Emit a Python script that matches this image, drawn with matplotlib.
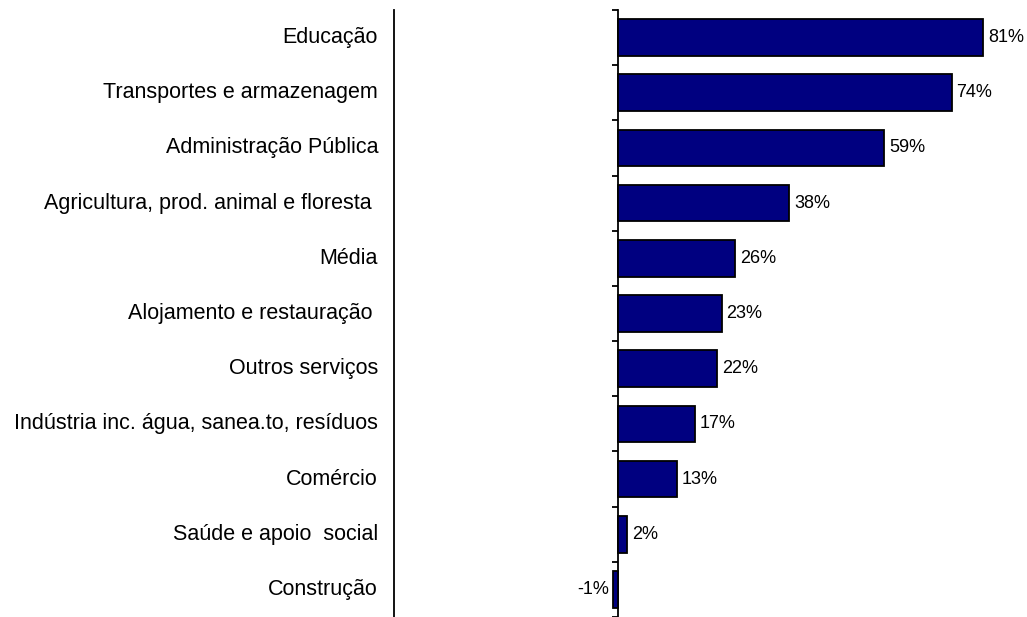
import matplotlib
matplotlib.use('Agg')
import matplotlib.pyplot as plt
import matplotlib.transforms as mtransforms
import numpy as np

# data
sectors=['Educação','Transportes e armazenagem','Administração Pública',
         'Agricultura, prod. animal e floresta ','Média','Alojamento e restauração ',
         'Outros serviços','Indústria inc. água, sanea.to, resíduos','Comércio',
         'Saúde e apoio  social','Construção']
values=[81,74,59,38,26,23,22,17,13,2,-1]

plt.rcParams['font.family']=['Liberation Sans','DejaVu Sans']

W,H=1027,617
fig=plt.figure(figsize=(W/100,H/100),dpi=100)
x_left,x_zero,x_right=394,618,1000
ppu=4.51 # pixels per percent
row=55.6 # pixels per category
top=10   # pixels from top to first boundary tick
ax=fig.add_axes([x_left/W,0,(x_right-x_left)/W,(H-top)/H])
y=np.arange(len(values))
ax.barh(y,values,height=0.665,color='#000080',edgecolor='black',lw=1.3,zorder=3)
ax.set_xlim(-(x_zero-x_left)/ppu,(x_right-x_zero)/ppu)
ax.set_ylim(-0.5+(H-top)/row,-0.5)

for s in ['top','right','bottom']:
  ax.spines[s].set_visible(False)
ax.spines['left'].set_position(('data',0))
ax.spines['left'].set_linewidth(1.3)
ax.set_xticks([])
ax.set_yticks([])
ax.set_yticks(np.arange(len(values)+1)-0.5,minor=True)
ax.tick_params(axis='y',which='minor',direction='out',length=4.3,width=1.3,labelleft=False)

# separate vertical line at the left edge
ax.plot([0,0],[0,1],transform=ax.transAxes,color='black',lw=1.3,clip_on=False)

tr=mtransforms.blended_transform_factory(fig.transFigure,ax.transData)
for i,(lab,v) in enumerate(zip(sectors,values)):
  ax.text(378/W,i,lab,ha='right',va='center',fontsize=15.5,transform=tr)
  if v>=0:
    ax.annotate(f'{v}%',(v,i),xytext=(3.5,0),textcoords='offset points',
                ha='left',va='center',fontsize=13)
  else:
    ax.annotate(f'{v}%',(v,i),xytext=(-3,0),textcoords='offset points',
                ha='right',va='center',fontsize=13)

fig.savefig('out.png',dpi=100)
